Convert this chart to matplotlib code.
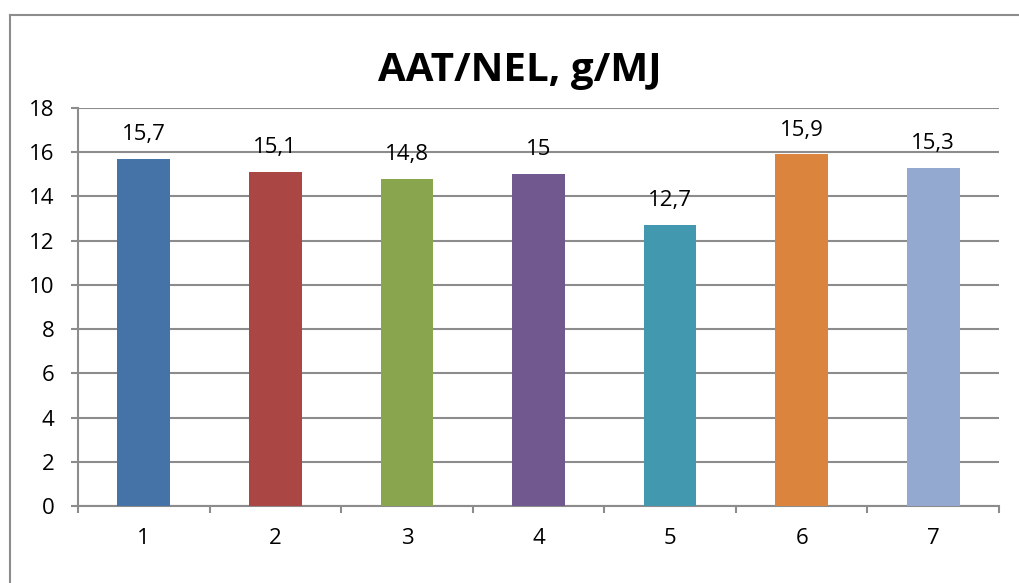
import matplotlib
matplotlib.use('Agg')
import matplotlib.pyplot as plt
from matplotlib.lines import Line2D
import numpy as np

categories = ['1', '2', '3', '4', '5', '6', '7']
values = [15.7, 15.1, 14.8, 15.0, 12.7, 15.9, 15.3]
labels = ['15,7', '15,1', '14,8', '15', '12,7', '15,9', '15,3']
colors = ['#4572A7', '#AA4643', '#89A54E', '#71588F', '#4198AF', '#DB843D', '#93A9CF']

plt.rcParams['font.family'] = ['Open Sans', 'DejaVu Sans']
grid_c = '#8c8c8c'
fs = 16

fig = plt.figure(figsize=(10.19, 5.83), dpi=100)
ax = fig.add_axes([78/1019, 1-506/583, (999-78)/1019, (506-108)/583])

# outer chart frame (only left and top edges are visible)
fig.add_artist(Line2D([10/1019, 10/1019], [-0.1, 1-15/583], color=grid_c, lw=1.5))
fig.add_artist(Line2D([10/1019, 1.1], [1-15/583, 1-15/583], color=grid_c, lw=1.5))

x = np.arange(len(values))
ax.bar(x, values, width=0.4, color=colors, zorder=3)
for xi, v, lab in zip(x, values, labels):
    ax.annotate(lab, (xi, v), xytext=(0, 10), textcoords='offset points',
                ha='center', va='bottom', fontsize=fs)

ax.set_xlim(-0.5, len(values) - 0.5)
ax.set_ylim(0, 18)
ax.set_yticks(np.arange(0, 19, 2))
ax.set_xticks(x)
ax.set_xticklabels(categories)
ax.set_xticks(np.arange(-0.5, len(values)), minor=True)
ax.tick_params(axis='x', which='major', length=0, pad=16, labelsize=fs)
ax.tick_params(axis='x', which='minor', length=5, color=grid_c, width=1.5)
ax.tick_params(axis='y', length=5, color=grid_c, width=1.5, labelsize=fs, pad=12)
ax.yaxis.grid(True, color=grid_c, lw=1.5, zorder=0)

for s in ['top', 'right']:
    ax.spines[s].set_visible(False)
for s in ['left', 'bottom']:
    ax.spines[s].set_color(grid_c)
    ax.spines[s].set_linewidth(1.5)

fig.text(520/1019, 1-70/583, 'AAT/NEL, g/MJ', ha='center', va='center',
         fontsize=29, fontweight='bold')

fig.savefig('out.png', dpi=100)
